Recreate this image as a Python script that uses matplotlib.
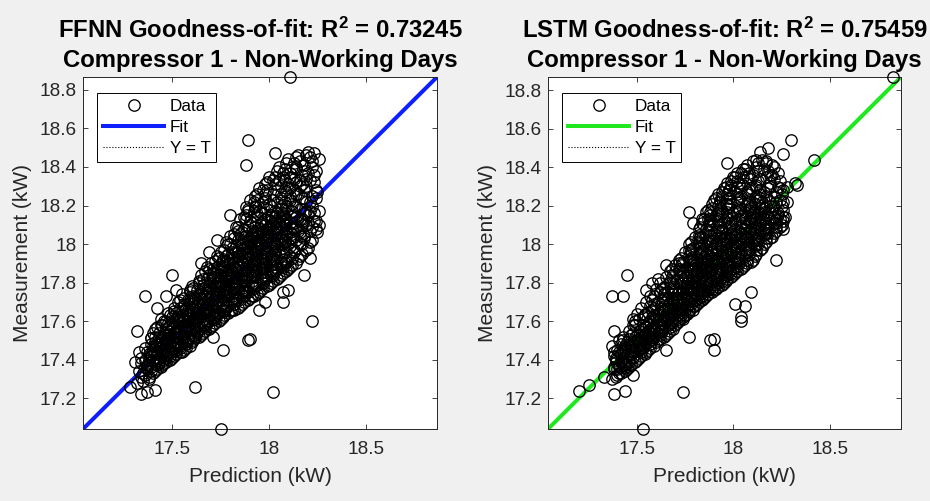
import matplotlib
matplotlib.use("Agg")
import matplotlib.pyplot as plt
from matplotlib.lines import Line2D

plt.rcParams["font.family"] = ["Liberation Sans", "DejaVu Sans"]

# ---- FFNN: prediction vs. measurement (kW) ----
ffnn_pred = [
    17.32, 17.33, 17.31, 17.34, 17.33,
    17.35, 17.36, 17.34, 17.35, 17.36, 17.34,
    17.38, 17.37, 17.38, 17.39, 17.37, 17.38, 17.39,
    17.40, 17.41, 17.39, 17.40, 17.41, 17.40, 17.39, 17.41, 17.40,
    17.42, 17.43, 17.42, 17.44, 17.43, 17.42, 17.43, 17.44, 17.42,
    17.45, 17.46, 17.44, 17.45, 17.46, 17.45, 17.44, 17.46, 17.45, 17.46,
    17.47, 17.48, 17.47, 17.49, 17.48, 17.47, 17.48, 17.49, 17.47, 17.48,
    17.50, 17.51, 17.50, 17.51, 17.49, 17.50, 17.51, 17.50, 17.49, 17.51,
    17.52, 17.53, 17.52, 17.54, 17.53, 17.52, 17.53, 17.54, 17.52, 17.53,
    17.55, 17.56, 17.55, 17.56, 17.54, 17.55, 17.56, 17.55, 17.54, 17.56, 17.55,
    17.57, 17.58, 17.57, 17.59, 17.58, 17.57, 17.58, 17.59, 17.57, 17.58, 17.59,
    17.60, 17.61, 17.60, 17.61, 17.59, 17.60, 17.61, 17.60, 17.59, 17.61, 17.60,
    17.62, 17.63, 17.62, 17.64, 17.63, 17.62, 17.63, 17.64, 17.62, 17.63, 17.64,
    17.65, 17.66, 17.65, 17.66, 17.64, 17.65, 17.66, 17.65, 17.64, 17.66, 17.65,
    17.67, 17.68, 17.67, 17.69, 17.68, 17.67, 17.68, 17.69, 17.67, 17.68, 17.69,
    17.70, 17.71, 17.70, 17.71, 17.69, 17.70, 17.71, 17.70, 17.69, 17.71, 17.70, 17.71,
    17.72, 17.73, 17.72, 17.74, 17.73, 17.72, 17.73, 17.74, 17.72, 17.73, 17.74, 17.72,
    17.75, 17.76, 17.75, 17.76, 17.74, 17.75, 17.76, 17.75, 17.74, 17.76, 17.75, 17.76,
    17.77, 17.78, 17.77, 17.79, 17.78, 17.77, 17.78, 17.79, 17.77, 17.78, 17.79, 17.78,
    17.80, 17.81, 17.80, 17.81, 17.79, 17.80, 17.81, 17.80, 17.79, 17.81, 17.80, 17.81, 17.80,
    17.82, 17.83, 17.82, 17.84, 17.83, 17.82, 17.83, 17.84, 17.82, 17.83, 17.84, 17.83, 17.82,
    17.85, 17.86, 17.85, 17.86, 17.84, 17.85, 17.86, 17.85, 17.84, 17.86, 17.85, 17.86, 17.85, 17.84,
    17.87, 17.88, 17.87, 17.89, 17.88, 17.87, 17.88, 17.89, 17.87, 17.88, 17.89, 17.88, 17.87, 17.88,
    17.90, 17.91, 17.90, 17.91, 17.89, 17.90, 17.91, 17.90, 17.89, 17.91, 17.90, 17.91, 17.90, 17.89,
    17.92, 17.93, 17.92, 17.94, 17.93, 17.92, 17.93, 17.94, 17.92, 17.93, 17.94, 17.93, 17.92, 17.93,
    17.95, 17.96, 17.95, 17.96, 17.94, 17.95, 17.96, 17.95, 17.94, 17.96, 17.95, 17.96, 17.95, 17.94,
    17.97, 17.98, 17.97, 17.99, 17.98, 17.97, 17.98, 17.99, 17.97, 17.98, 17.99, 17.98, 17.97, 17.98,
    18.00, 18.01, 18.00, 18.01, 17.99, 18.00, 18.01, 18.00, 17.99, 18.01, 18.00, 18.01, 18.00, 17.99,
    18.02, 18.03, 18.02, 18.04, 18.03, 18.02, 18.03, 18.04, 18.02, 18.03, 18.04, 18.03, 18.02, 18.03,
    18.05, 18.06, 18.05, 18.06, 18.04, 18.05, 18.06, 18.05, 18.04, 18.06, 18.05, 18.06, 18.05,
    18.07, 18.08, 18.07, 18.09, 18.08, 18.07, 18.08, 18.09, 18.07, 18.08, 18.09, 18.08, 18.07,
    18.10, 18.11, 18.10, 18.11, 18.09, 18.10, 18.11, 18.10, 18.09, 18.11, 18.10, 18.11,
    18.12, 18.13, 18.12, 18.14, 18.13, 18.12, 18.13, 18.14, 18.12, 18.13, 18.14,
    18.15, 18.16, 18.15, 18.16, 18.14, 18.15, 18.16, 18.15, 18.14, 18.16,
    18.17, 18.18, 18.17, 18.19, 18.18, 18.17, 18.18, 18.19, 18.17,
    18.20, 18.21, 18.20, 18.21, 18.19, 18.20, 18.21, 18.20,
    18.22, 18.23, 18.22, 18.24, 18.23, 18.22,
    18.25, 18.26, 18.25, 18.24,
    17.36, 17.37, 17.36, 17.37,
    17.39, 17.38, 17.39, 17.40, 17.39, 17.38,
    17.41, 17.42, 17.41, 17.42, 17.41, 17.42, 17.41,
    17.44, 17.43, 17.44, 17.43, 17.44, 17.43, 17.44, 17.43,
    17.46, 17.47, 17.46, 17.47, 17.46, 17.47, 17.46, 17.47,
    17.49, 17.48, 17.49, 17.48, 17.49, 17.48, 17.49, 17.48,
    17.51, 17.52, 17.51, 17.52, 17.51, 17.52, 17.51, 17.52,
    17.54, 17.53, 17.54, 17.53, 17.54, 17.53, 17.54, 17.53, 17.54,
    17.56, 17.57, 17.56, 17.57, 17.56, 17.57, 17.56, 17.57, 17.56,
    17.59, 17.58, 17.59, 17.58, 17.59, 17.58, 17.59, 17.58, 17.59,
    17.61, 17.62, 17.61, 17.62, 17.61, 17.62, 17.61, 17.62, 17.61,
    17.64, 17.63, 17.64, 17.63, 17.64, 17.63, 17.64, 17.63, 17.64,
    17.66, 17.67, 17.66, 17.67, 17.66, 17.67, 17.66, 17.67, 17.66, 17.67,
    17.69, 17.68, 17.69, 17.68, 17.69, 17.68, 17.69, 17.68, 17.69, 17.68,
    17.71, 17.72, 17.71, 17.72, 17.71, 17.72, 17.71, 17.72, 17.71, 17.72,
    17.74, 17.73, 17.74, 17.73, 17.74, 17.73, 17.74, 17.73, 17.74, 17.73, 17.74,
    17.76, 17.77, 17.76, 17.77, 17.76, 17.77, 17.76, 17.77, 17.76, 17.77, 17.76,
    17.79, 17.78, 17.79, 17.78, 17.79, 17.78, 17.79, 17.78, 17.79, 17.78, 17.79, 17.78,
    17.81, 17.82, 17.81, 17.82, 17.81, 17.82, 17.81, 17.82, 17.81, 17.82, 17.81, 17.82,
    17.84, 17.83, 17.84, 17.83, 17.84, 17.83, 17.84, 17.83, 17.84, 17.83, 17.84, 17.83, 17.84,
    17.86, 17.87, 17.86, 17.87, 17.86, 17.87, 17.86, 17.87, 17.86, 17.87, 17.86, 17.87, 17.86,
    17.89, 17.88, 17.89, 17.88, 17.89, 17.88, 17.89, 17.88, 17.89, 17.88, 17.89, 17.88, 17.89, 17.88,
    17.91, 17.92, 17.91, 17.92, 17.91, 17.92, 17.91, 17.92, 17.91, 17.92, 17.91, 17.92, 17.91, 17.92,
    17.94, 17.93, 17.94, 17.93, 17.94, 17.93, 17.94, 17.93, 17.94, 17.93, 17.94, 17.93, 17.94, 17.93,
    17.96, 17.97, 17.96, 17.97, 17.96, 17.97, 17.96, 17.97, 17.96, 17.97, 17.96, 17.97, 17.96, 17.97,
    17.99, 17.98, 17.99, 17.98, 17.99, 17.98, 17.99, 17.98, 17.99, 17.98, 17.99, 17.98, 17.99, 17.98,
    18.01, 18.02, 18.01, 18.02, 18.01, 18.02, 18.01, 18.02, 18.01, 18.02, 18.01, 18.02, 18.01, 18.02,
    18.04, 18.03, 18.04, 18.03, 18.04, 18.03, 18.04, 18.03, 18.04, 18.03, 18.04, 18.03, 18.04,
    18.06, 18.07, 18.06, 18.07, 18.06, 18.07, 18.06, 18.07, 18.06, 18.07, 18.06, 18.07, 18.06,
    18.09, 18.08, 18.09, 18.08, 18.09, 18.08, 18.09, 18.08, 18.09, 18.08, 18.09, 18.08,
    18.11, 18.12, 18.11, 18.12, 18.11, 18.12, 18.11, 18.12, 18.11, 18.12, 18.11,
    18.14, 18.13, 18.14, 18.13, 18.14, 18.13, 18.14, 18.13, 18.14, 18.13,
    18.16, 18.17, 18.16, 18.17, 18.16, 18.17, 18.16, 18.17, 18.16,
    18.19, 18.18, 18.19, 18.18, 18.19, 18.18, 18.19, 18.18,
    18.21, 18.22, 18.21, 18.22, 18.21, 18.22,
    18.24, 18.23, 18.24, 18.23,
    18.11, 17.89, 17.88, 18.03, 18.26, 17.80, 17.73, 17.65, 17.69, 18.21,
    18.24, 17.50, 17.36, 17.32, 17.47, 17.42, 17.52, 17.62, 18.02, 17.75,
    18.22, 17.89, 17.90, 17.76, 17.71, 18.07, 18.10, 18.18, 17.28, 17.34,
    17.41, 17.37, 18.26, 18.23, 18.20, 17.98, 17.95, 18.07,
]
ffnn_meas = [
    17.28, 17.34, 17.39, 17.31, 17.44,
    17.29, 17.36, 17.41, 17.33, 17.46, 17.38,
    17.31, 17.37, 17.43, 17.48, 17.35, 17.40, 17.51,
    17.33, 17.38, 17.42, 17.45, 17.49, 17.54, 17.36, 17.47, 17.40,
    17.35, 17.41, 17.44, 17.47, 17.52, 17.57, 17.38, 17.50, 17.43,
    17.37, 17.42, 17.46, 17.49, 17.53, 17.58, 17.61, 17.40, 17.51, 17.45,
    17.39, 17.44, 17.48, 17.52, 17.55, 17.60, 17.64, 17.42, 17.50, 17.57,
    17.41, 17.46, 17.50, 17.54, 17.58, 17.62, 17.67, 17.44, 17.52, 17.60,
    17.43, 17.48, 17.52, 17.56, 17.60, 17.64, 17.70, 17.46, 17.54, 17.62,
    17.44, 17.49, 17.53, 17.57, 17.61, 17.65, 17.69, 17.74, 17.47, 17.55, 17.63,
    17.46, 17.51, 17.55, 17.59, 17.63, 17.67, 17.71, 17.76, 17.49, 17.57, 17.65,
    17.49, 17.53, 17.57, 17.61, 17.65, 17.69, 17.73, 17.78, 17.51, 17.59, 17.67,
    17.51, 17.55, 17.60, 17.64, 17.68, 17.72, 17.76, 17.81, 17.53, 17.62, 17.70,
    17.53, 17.58, 17.62, 17.66, 17.70, 17.74, 17.79, 17.84, 17.56, 17.64, 17.72,
    17.55, 17.60, 17.64, 17.69, 17.73, 17.77, 17.82, 17.87, 17.58, 17.66, 17.75,
    17.57, 17.62, 17.66, 17.71, 17.75, 17.80, 17.85, 17.90, 17.60, 17.68, 17.77, 17.83,
    17.59, 17.64, 17.69, 17.73, 17.78, 17.83, 17.88, 17.93, 17.62, 17.71, 17.80, 17.86,
    17.61, 17.66, 17.71, 17.76, 17.81, 17.86, 17.91, 17.96, 17.64, 17.73, 17.83, 17.88,
    17.63, 17.68, 17.73, 17.78, 17.83, 17.88, 17.94, 18.00, 17.66, 17.75, 17.85, 17.91,
    17.65, 17.70, 17.75, 17.80, 17.85, 17.90, 17.96, 18.04, 17.68, 17.77, 17.87, 17.93, 18.00,
    17.66, 17.72, 17.77, 17.82, 17.87, 17.93, 17.99, 18.07, 17.69, 17.79, 17.90, 17.96, 18.03,
    17.68, 17.74, 17.79, 17.84, 17.89, 17.95, 18.01, 18.13, 17.71, 17.81, 17.92, 17.98, 18.05, 18.09,
    17.70, 17.76, 17.81, 17.86, 17.92, 17.98, 18.04, 18.18, 17.73, 17.83, 17.95, 18.01, 18.08, 18.13,
    17.72, 17.78, 17.83, 17.89, 17.95, 18.01, 18.07, 18.23, 17.75, 17.86, 17.98, 18.04, 18.12, 18.17,
    17.73, 17.80, 17.85, 17.91, 17.97, 18.03, 18.09, 18.26, 17.77, 17.88, 18.00, 18.06, 18.15, 18.20,
    17.75, 17.82, 17.87, 17.93, 17.99, 18.05, 18.11, 18.29, 17.79, 17.90, 18.02, 18.08, 18.17, 18.23,
    17.77, 17.84, 17.89, 17.95, 18.01, 18.07, 18.13, 18.32, 17.81, 17.92, 18.04, 18.10, 18.19, 18.26,
    17.79, 17.86, 17.91, 17.97, 18.03, 18.09, 18.15, 18.35, 17.83, 17.94, 18.06, 18.12, 18.21, 18.28,
    17.81, 17.88, 17.93, 17.99, 18.05, 18.11, 18.17, 18.38, 17.85, 17.96, 18.08, 18.14, 18.23, 18.31,
    17.83, 17.90, 17.96, 18.02, 18.08, 18.14, 18.20, 18.40, 17.87, 18.00, 18.11, 18.26, 18.33,
    17.85, 17.92, 17.98, 18.04, 18.10, 18.16, 18.22, 18.42, 17.89, 18.01, 18.13, 18.28, 18.35,
    17.87, 17.94, 18.00, 18.06, 18.12, 18.18, 18.25, 18.44, 17.91, 18.03, 18.31, 18.37,
    17.89, 17.97, 18.03, 18.09, 18.15, 18.21, 18.28, 18.45, 17.93, 18.34, 18.40,
    17.92, 18.00, 18.07, 18.13, 18.19, 18.26, 18.33, 18.46, 18.39, 18.04,
    17.95, 18.03, 18.10, 18.17, 18.24, 18.31, 18.38, 18.46, 18.13,
    17.98, 18.07, 18.15, 18.22, 18.30, 18.37, 18.45, 18.11,
    18.02, 18.12, 18.20, 18.28, 18.36, 18.43,
    18.06, 18.17, 18.27, 18.38,
    17.32, 17.36, 17.40, 17.44,
    17.34, 17.39, 17.43, 17.47, 17.51, 17.30,
    17.34, 17.40, 17.44, 17.48, 17.52, 17.37, 17.56,
    17.36, 17.39, 17.43, 17.46, 17.50, 17.54, 17.58, 17.48,
    17.38, 17.41, 17.45, 17.48, 17.52, 17.56, 17.60, 17.50,
    17.40, 17.43, 17.47, 17.51, 17.55, 17.59, 17.63, 17.53,
    17.42, 17.45, 17.49, 17.53, 17.57, 17.61, 17.65, 17.55,
    17.44, 17.47, 17.51, 17.55, 17.59, 17.63, 17.67, 17.57, 17.71,
    17.45, 17.48, 17.52, 17.56, 17.60, 17.64, 17.68, 17.58, 17.72,
    17.47, 17.50, 17.54, 17.58, 17.62, 17.66, 17.70, 17.60, 17.75,
    17.50, 17.52, 17.56, 17.60, 17.64, 17.68, 17.72, 17.62, 17.77,
    17.52, 17.54, 17.58, 17.62, 17.66, 17.70, 17.74, 17.64, 17.80,
    17.54, 17.57, 17.61, 17.65, 17.69, 17.73, 17.77, 17.67, 17.82, 17.86,
    17.56, 17.59, 17.63, 17.67, 17.71, 17.75, 17.79, 17.69, 17.84, 17.88,
    17.58, 17.61, 17.65, 17.69, 17.73, 17.78, 17.82, 17.72, 17.87, 17.91,
    17.60, 17.63, 17.67, 17.71, 17.75, 17.80, 17.84, 17.74, 17.89, 17.94, 17.78,
    17.62, 17.65, 17.69, 17.74, 17.78, 17.83, 17.87, 17.77, 17.92, 17.97, 17.81,
    17.64, 17.67, 17.71, 17.76, 17.81, 17.86, 17.90, 17.79, 17.95, 18.01, 17.84, 17.73,
    17.66, 17.69, 17.73, 17.78, 17.83, 17.88, 17.93, 17.81, 17.98, 18.05, 17.86, 17.75,
    17.67, 17.71, 17.75, 17.80, 17.85, 17.91, 17.96, 17.83, 18.02, 18.09, 17.88, 17.77, 17.94,
    17.69, 17.73, 17.77, 17.82, 17.88, 17.94, 18.00, 17.85, 18.06, 18.14, 17.91, 17.79, 17.97,
    17.71, 17.75, 17.79, 17.84, 17.90, 17.96, 18.02, 17.87, 18.09, 18.19, 17.93, 17.81, 17.99, 18.15,
    17.73, 17.77, 17.81, 17.87, 17.93, 17.99, 18.05, 17.90, 18.11, 18.22, 17.96, 17.84, 18.02, 18.17,
    17.74, 17.78, 17.83, 17.89, 17.95, 18.01, 18.07, 17.92, 18.14, 18.25, 17.98, 17.86, 18.04, 18.19,
    17.76, 17.80, 17.85, 17.91, 17.97, 18.03, 18.10, 17.94, 18.16, 18.28, 18.00, 17.88, 18.06, 18.22,
    17.78, 17.82, 17.87, 17.93, 17.99, 18.05, 18.12, 17.96, 18.18, 18.31, 18.02, 17.90, 18.08, 18.24,
    17.80, 17.84, 17.89, 17.95, 18.01, 18.07, 18.14, 17.98, 18.20, 18.33, 18.04, 17.92, 18.10, 18.26,
    17.82, 17.86, 17.91, 17.97, 18.03, 18.09, 18.16, 18.00, 18.22, 18.35, 18.06, 18.12, 18.28,
    17.84, 17.88, 17.94, 18.00, 18.06, 18.12, 18.18, 18.03, 18.24, 18.37, 18.09, 18.15, 18.30,
    17.86, 17.90, 17.96, 18.02, 18.08, 18.14, 18.20, 18.05, 18.27, 18.39, 18.11, 18.33,
    17.88, 17.93, 17.99, 18.05, 18.11, 18.17, 18.23, 18.08, 18.29, 18.40, 18.35,
    17.90, 17.96, 18.02, 18.08, 18.14, 18.20, 18.26, 18.11, 18.32, 18.42,
    17.94, 18.00, 18.06, 18.12, 18.18, 18.24, 18.30, 18.36, 18.43,
    17.97, 18.04, 18.10, 18.16, 18.22, 18.28, 18.34, 18.41,
    18.01, 18.09, 18.17, 18.25, 18.33, 18.40,
    18.08, 18.16, 18.24, 18.32,
    18.867, 18.54, 18.41, 18.47, 18.44, 18.15, 18.02, 17.90, 17.96, 17.93,
    18.12, 17.84, 17.73, 17.55, 17.73, 17.67, 17.76, 17.26, 17.23, 17.04,
    17.60, 17.50, 17.505, 17.45, 17.52, 17.75, 17.76, 17.84, 17.26, 17.22,
    17.24, 17.23, 18.10, 18.47, 18.48, 17.70, 17.66, 17.70,
]

# ---- LSTM: prediction vs. measurement (kW) ----
lstm_pred = [
    17.37, 17.38, 17.38, 17.37, 17.39,
    17.40, 17.41, 17.39, 17.40, 17.41, 17.40, 17.42,
    17.42, 17.43, 17.42, 17.44, 17.43, 17.42, 17.43, 17.44,
    17.45, 17.46, 17.44, 17.45, 17.46, 17.45, 17.44, 17.46,
    17.47, 17.48, 17.47, 17.49, 17.48, 17.47, 17.48,
    17.50, 17.51, 17.50, 17.51, 17.49, 17.50, 17.51, 17.50,
    17.52, 17.53, 17.52, 17.54, 17.53, 17.52, 17.53,
    17.55, 17.56, 17.55, 17.56, 17.54, 17.55, 17.56, 17.55,
    17.57, 17.58, 17.57, 17.59, 17.58, 17.57, 17.58, 17.59,
    17.60, 17.61, 17.60, 17.61, 17.59, 17.60, 17.61, 17.60, 17.59,
    17.62, 17.63, 17.62, 17.64, 17.63, 17.62, 17.63, 17.64, 17.62,
    17.65, 17.66, 17.65, 17.66, 17.64, 17.65, 17.66, 17.65, 17.64,
    17.67, 17.68, 17.67, 17.69, 17.68, 17.67, 17.68, 17.69, 17.67, 17.68,
    17.70, 17.71, 17.70, 17.71, 17.69, 17.70, 17.71, 17.70, 17.69, 17.71,
    17.72, 17.73, 17.72, 17.74, 17.73, 17.72, 17.73, 17.74, 17.72, 17.73, 17.74,
    17.75, 17.76, 17.75, 17.76, 17.74, 17.75, 17.76, 17.75, 17.74, 17.76, 17.75,
    17.77, 17.78, 17.77, 17.79, 17.78, 17.77, 17.78, 17.79, 17.77, 17.78, 17.79, 17.78,
    17.80, 17.81, 17.80, 17.81, 17.79, 17.80, 17.81, 17.80, 17.79, 17.81, 17.80, 17.81,
    17.82, 17.83, 17.82, 17.84, 17.83, 17.82, 17.83, 17.84, 17.82, 17.83, 17.84, 17.83, 17.82,
    17.85, 17.86, 17.85, 17.86, 17.84, 17.85, 17.86, 17.85, 17.84, 17.86, 17.85, 17.86, 17.85, 17.84,
    17.87, 17.88, 17.87, 17.89, 17.88, 17.87, 17.88, 17.89, 17.87, 17.88, 17.89, 17.88, 17.87, 17.88,
    17.90, 17.91, 17.90, 17.91, 17.89, 17.90, 17.91, 17.90, 17.89, 17.91, 17.90, 17.91, 17.90, 17.89,
    17.92, 17.93, 17.92, 17.94, 17.93, 17.92, 17.93, 17.94, 17.92, 17.93, 17.94, 17.93, 17.92, 17.93,
    17.95, 17.96, 17.95, 17.96, 17.94, 17.95, 17.96, 17.95, 17.94, 17.96, 17.95, 17.96, 17.95, 17.94,
    17.97, 17.98, 17.97, 17.99, 17.98, 17.97, 17.98, 17.99, 17.97, 17.98, 17.99, 17.98, 17.97, 17.98,
    18.00, 18.01, 18.00, 18.01, 17.99, 18.00, 18.01, 18.00, 17.99, 18.01, 18.00, 18.01, 18.00, 17.99,
    18.02, 18.03, 18.02, 18.04, 18.03, 18.02, 18.03, 18.04, 18.02, 18.03, 18.04, 18.03, 18.02,
    18.05, 18.06, 18.05, 18.06, 18.04, 18.05, 18.06, 18.05, 18.04, 18.06, 18.05, 18.06, 18.05,
    18.07, 18.08, 18.07, 18.09, 18.08, 18.07, 18.08, 18.09, 18.07, 18.08, 18.09, 18.08,
    18.10, 18.11, 18.10, 18.11, 18.09, 18.10, 18.11, 18.10, 18.09, 18.11, 18.10, 18.11,
    18.12, 18.13, 18.12, 18.14, 18.13, 18.12, 18.13, 18.14, 18.12, 18.13, 18.14,
    18.15, 18.16, 18.15, 18.16, 18.14, 18.15, 18.16, 18.15, 18.14, 18.16,
    18.17, 18.18, 18.17, 18.19, 18.18, 18.17, 18.18, 18.19, 18.17,
    18.20, 18.21, 18.20, 18.21, 18.19, 18.20, 18.21, 18.20,
    18.22, 18.23, 18.22, 18.24, 18.23, 18.22,
    18.25, 18.26, 18.25, 18.24, 18.26,
    18.27, 18.28, 18.28,
    17.39, 17.38, 17.39, 17.38,
    17.41, 17.42, 17.41, 17.42, 17.41,
    17.44, 17.43, 17.44, 17.43, 17.44, 17.43,
    17.46, 17.47, 17.46, 17.47, 17.46, 17.47,
    17.49, 17.48, 17.49, 17.48, 17.49, 17.48, 17.49,
    17.51, 17.52, 17.51, 17.52, 17.51, 17.52, 17.51,
    17.54, 17.53, 17.54, 17.53, 17.54, 17.53, 17.54,
    17.56, 17.57, 17.56, 17.57, 17.56, 17.57, 17.56, 17.57,
    17.59, 17.58, 17.59, 17.58, 17.59, 17.58, 17.59, 17.58,
    17.61, 17.62, 17.61, 17.62, 17.61, 17.62, 17.61, 17.62,
    17.64, 17.63, 17.64, 17.63, 17.64, 17.63, 17.64, 17.63, 17.64,
    17.66, 17.67, 17.66, 17.67, 17.66, 17.67, 17.66, 17.67, 17.66,
    17.69, 17.68, 17.69, 17.68, 17.69, 17.68, 17.69, 17.68, 17.69, 17.68,
    17.71, 17.72, 17.71, 17.72, 17.71, 17.72, 17.71, 17.72, 17.71, 17.72,
    17.74, 17.73, 17.74, 17.73, 17.74, 17.73, 17.74, 17.73, 17.74, 17.73, 17.74,
    17.76, 17.77, 17.76, 17.77, 17.76, 17.77, 17.76, 17.77, 17.76, 17.77, 17.76,
    17.79, 17.78, 17.79, 17.78, 17.79, 17.78, 17.79, 17.78, 17.79, 17.78, 17.79, 17.78,
    17.81, 17.82, 17.81, 17.82, 17.81, 17.82, 17.81, 17.82, 17.81, 17.82, 17.81, 17.82,
    17.84, 17.83, 17.84, 17.83, 17.84, 17.83, 17.84, 17.83, 17.84, 17.83, 17.84, 17.83, 17.84,
    17.86, 17.87, 17.86, 17.87, 17.86, 17.87, 17.86, 17.87, 17.86, 17.87, 17.86, 17.87, 17.86, 17.87,
    17.89, 17.88, 17.89, 17.88, 17.89, 17.88, 17.89, 17.88, 17.89, 17.88, 17.89, 17.88, 17.89, 17.88,
    17.91, 17.92, 17.91, 17.92, 17.91, 17.92, 17.91, 17.92, 17.91, 17.92, 17.91, 17.92, 17.91, 17.92,
    17.94, 17.93, 17.94, 17.93, 17.94, 17.93, 17.94, 17.93, 17.94, 17.93, 17.94, 17.93, 17.94, 17.93,
    17.96, 17.97, 17.96, 17.97, 17.96, 17.97, 17.96, 17.97, 17.96, 17.97, 17.96, 17.97, 17.96, 17.97,
    17.99, 17.98, 17.99, 17.98, 17.99, 17.98, 17.99, 17.98, 17.99, 17.98, 17.99, 17.98, 17.99, 17.98,
    18.01, 18.02, 18.01, 18.02, 18.01, 18.02, 18.01, 18.02, 18.01, 18.02, 18.01, 18.02, 18.01, 18.02,
    18.04, 18.03, 18.04, 18.03, 18.04, 18.03, 18.04, 18.03, 18.04, 18.03, 18.04, 18.03, 18.04,
    18.06, 18.07, 18.06, 18.07, 18.06, 18.07, 18.06, 18.07, 18.06, 18.07, 18.06, 18.07, 18.06,
    18.09, 18.08, 18.09, 18.08, 18.09, 18.08, 18.09, 18.08, 18.09, 18.08, 18.09, 18.08,
    18.11, 18.12, 18.11, 18.12, 18.11, 18.12, 18.11, 18.12, 18.11, 18.12, 18.11, 18.12,
    18.14, 18.13, 18.14, 18.13, 18.14, 18.13, 18.14, 18.13, 18.14, 18.13, 18.14,
    18.16, 18.17, 18.16, 18.17, 18.16, 18.17, 18.16, 18.17, 18.16, 18.17,
    18.19, 18.18, 18.19, 18.18, 18.19, 18.18, 18.19, 18.18, 18.19,
    18.21, 18.22, 18.21, 18.22, 18.21, 18.22, 18.21,
    18.24, 18.23, 18.24, 18.23, 18.24,
    18.26, 18.25, 18.26,
    18.83, 18.42, 18.30, 18.33, 18.32, 17.97, 18.14, 18.26, 18.18, 17.77,
    17.79, 17.65, 18.26, 18.26, 18.22, 17.45, 17.37, 17.43, 17.38, 17.20,
    17.25, 17.38, 17.44, 17.74, 17.53, 17.90, 17.88, 17.90, 17.77, 17.65,
    18.04, 18.04, 18.09, 17.48, 17.33, 17.58, 17.61, 17.55, 18.01, 18.06,
]
lstm_meas = [
    17.30, 17.36, 17.42, 17.47, 17.39,
    17.32, 17.37, 17.41, 17.45, 17.50, 17.35, 17.43,
    17.33, 17.38, 17.43, 17.47, 17.52, 17.40, 17.45, 17.36,
    17.35, 17.40, 17.45, 17.49, 17.55, 17.43, 17.38, 17.51,
    17.37, 17.42, 17.47, 17.52, 17.58, 17.45, 17.61,
    17.40, 17.45, 17.50, 17.55, 17.60, 17.64, 17.48, 17.53,
    17.42, 17.47, 17.52, 17.57, 17.62, 17.67, 17.50,
    17.44, 17.49, 17.54, 17.59, 17.64, 17.70, 17.52, 17.57,
    17.46, 17.51, 17.56, 17.61, 17.66, 17.73, 17.54, 17.63,
    17.49, 17.54, 17.59, 17.64, 17.69, 17.77, 17.57, 17.62, 17.73,
    17.51, 17.56, 17.61, 17.66, 17.71, 17.80, 17.59, 17.68, 17.75,
    17.53, 17.58, 17.63, 17.68, 17.74, 17.83, 17.61, 17.71, 17.78,
    17.55, 17.60, 17.66, 17.71, 17.77, 17.86, 17.63, 17.74, 17.81, 17.69,
    17.58, 17.63, 17.68, 17.74, 17.80, 17.89, 17.66, 17.77, 17.84, 17.71,
    17.60, 17.65, 17.71, 17.77, 17.83, 17.92, 17.68, 17.80, 17.87, 17.74, 17.62,
    17.63, 17.68, 17.74, 17.80, 17.86, 17.96, 17.71, 17.83, 17.91, 17.77, 17.66,
    17.65, 17.71, 17.77, 17.83, 17.89, 18.00, 17.74, 17.86, 17.94, 17.80, 17.68, 17.97,
    17.68, 17.74, 17.80, 17.86, 17.92, 18.04, 17.77, 17.89, 17.98, 17.83, 17.71, 18.01,
    17.70, 17.76, 17.82, 17.88, 17.95, 18.08, 17.79, 17.91, 18.01, 17.85, 17.73, 18.04, 17.98,
    17.72, 17.78, 17.84, 17.90, 17.97, 18.13, 17.81, 17.93, 18.04, 17.87, 17.75, 18.08, 18.00, 18.11,
    17.74, 17.80, 17.86, 17.93, 18.00, 18.18, 17.83, 17.96, 18.07, 17.89, 17.77, 18.12, 18.03, 18.15,
    17.76, 17.82, 17.89, 17.95, 18.02, 18.23, 17.85, 17.98, 18.10, 17.92, 17.79, 18.15, 18.06, 18.19,
    17.78, 17.84, 17.91, 17.97, 18.04, 18.26, 17.87, 18.00, 18.13, 17.94, 17.81, 18.18, 18.09, 18.22,
    17.80, 17.86, 17.93, 18.00, 18.07, 18.29, 17.89, 18.03, 18.16, 17.96, 17.83, 18.21, 18.12, 18.25,
    17.82, 17.88, 17.95, 18.02, 18.09, 18.32, 17.91, 18.05, 18.19, 17.98, 17.85, 18.24, 18.14, 18.28,
    17.84, 17.90, 17.97, 18.04, 18.11, 18.35, 17.93, 18.07, 18.21, 18.00, 17.87, 18.27, 18.16, 18.31,
    17.86, 17.92, 17.99, 18.06, 18.13, 18.37, 17.95, 18.09, 18.23, 18.02, 18.29, 18.18, 18.33,
    17.88, 17.94, 18.01, 18.08, 18.15, 18.39, 17.97, 18.11, 18.25, 18.04, 18.31, 18.20, 18.35,
    17.90, 17.97, 18.04, 18.11, 18.18, 18.41, 18.00, 18.14, 18.27, 18.07, 18.34, 18.22,
    17.92, 17.99, 18.06, 18.13, 18.20, 18.43, 18.02, 18.16, 18.29, 18.09, 18.36, 18.24,
    17.95, 18.02, 18.09, 18.16, 18.23, 18.44, 18.05, 18.19, 18.31, 18.38, 18.12,
    17.98, 18.05, 18.12, 18.19, 18.26, 18.44, 18.08, 18.22, 18.34, 18.39,
    18.01, 18.08, 18.15, 18.22, 18.29, 18.43, 18.11, 18.36, 18.25,
    18.04, 18.11, 18.18, 18.25, 18.32, 18.41, 18.14, 18.36,
    18.07, 18.15, 18.22, 18.29, 18.37, 18.11,
    18.10, 18.18, 18.26, 18.33, 18.22,
    18.14, 18.22, 18.30,
    17.31, 17.35, 17.40, 17.44,
    17.33, 17.39, 17.44, 17.48, 17.36,
    17.34, 17.41, 17.46, 17.50, 17.37, 17.44,
    17.36, 17.43, 17.48, 17.53, 17.39, 17.46,
    17.39, 17.44, 17.49, 17.54, 17.58, 17.41, 17.47,
    17.41, 17.46, 17.51, 17.56, 17.61, 17.44, 17.49,
    17.43, 17.48, 17.53, 17.58, 17.63, 17.46, 17.51,
    17.45, 17.50, 17.55, 17.60, 17.65, 17.48, 17.53, 17.68,
    17.47, 17.52, 17.57, 17.62, 17.67, 17.50, 17.55, 17.71,
    17.50, 17.55, 17.60, 17.65, 17.70, 17.53, 17.58, 17.75,
    17.52, 17.57, 17.62, 17.67, 17.72, 17.55, 17.60, 17.77, 17.65,
    17.54, 17.59, 17.64, 17.70, 17.75, 17.57, 17.62, 17.80, 17.67,
    17.56, 17.61, 17.67, 17.72, 17.78, 17.59, 17.64, 17.83, 17.70, 17.87,
    17.59, 17.64, 17.69, 17.75, 17.81, 17.61, 17.67, 17.86, 17.72, 17.90,
    17.61, 17.66, 17.72, 17.78, 17.84, 17.63, 17.69, 17.89, 17.75, 17.93, 17.81,
    17.64, 17.69, 17.75, 17.81, 17.87, 17.66, 17.72, 17.92, 17.78, 17.97, 17.84,
    17.66, 17.72, 17.78, 17.84, 17.90, 17.69, 17.75, 17.96, 17.81, 18.01, 17.87, 17.93,
    17.69, 17.75, 17.81, 17.87, 17.93, 17.72, 17.78, 18.00, 17.84, 18.05, 17.90, 17.96,
    17.71, 17.77, 17.83, 17.89, 17.96, 17.74, 17.80, 18.04, 17.86, 18.09, 17.92, 17.99, 18.13,
    17.73, 17.79, 17.85, 17.92, 17.99, 17.76, 17.82, 18.07, 17.88, 18.13, 17.95, 18.02, 18.17, 18.10,
    17.75, 17.81, 17.87, 17.94, 18.01, 17.78, 17.84, 18.10, 17.91, 18.17, 17.97, 18.05, 18.21, 18.13,
    17.77, 17.83, 17.90, 17.96, 18.03, 17.80, 17.86, 18.12, 17.93, 18.20, 18.00, 18.07, 18.24, 18.16,
    17.79, 17.85, 17.92, 17.99, 18.06, 17.82, 17.88, 18.15, 17.95, 18.23, 18.02, 18.10, 18.27, 18.19,
    17.81, 17.87, 17.94, 18.01, 18.08, 17.84, 17.90, 18.17, 17.97, 18.26, 18.04, 18.13, 18.30, 18.21,
    17.83, 17.89, 17.96, 18.03, 18.10, 17.86, 17.92, 18.20, 17.99, 18.28, 18.06, 18.15, 18.33, 18.24,
    17.85, 17.91, 17.98, 18.05, 18.12, 17.88, 17.94, 18.22, 18.01, 18.30, 18.08, 18.17, 18.35, 18.26,
    17.87, 17.93, 18.00, 18.07, 18.14, 17.90, 17.96, 18.24, 18.03, 18.32, 18.10, 18.19, 18.37,
    17.89, 17.96, 18.03, 18.10, 18.17, 17.92, 17.99, 18.26, 18.06, 18.35, 18.13, 18.21, 18.39,
    17.91, 17.98, 18.05, 18.12, 18.19, 17.95, 18.01, 18.28, 18.08, 18.37, 18.15, 18.23,
    17.94, 18.00, 18.07, 18.14, 18.21, 17.97, 18.04, 18.30, 18.11, 18.40, 18.17, 18.25,
    17.97, 18.03, 18.10, 18.17, 18.24, 18.00, 18.07, 18.33, 18.14, 18.42, 18.28,
    18.00, 18.06, 18.13, 18.20, 18.27, 18.03, 18.10, 18.35, 18.17, 18.42,
    18.03, 18.09, 18.16, 18.23, 18.30, 18.06, 18.13, 18.38, 18.20,
    18.06, 18.13, 18.20, 18.27, 18.34, 18.09, 18.40,
    18.09, 18.16, 18.23, 18.30, 18.13,
    18.12, 18.20, 18.28,
    18.869, 18.44, 18.54, 18.31, 18.32, 18.42, 18.48, 18.47, 18.50, 18.17,
    18.11, 17.89, 18.14, 18.08, 17.92, 17.84, 17.73, 17.73, 17.55, 17.24,
    17.27, 17.22, 17.24, 17.23, 17.04, 17.45, 17.50, 17.51, 17.52, 17.45,
    17.60, 17.62, 17.75, 17.32, 17.31, 17.80, 17.82, 17.76, 17.69, 17.68,
]

model_names = ["FFNN", "LSTM"]
r_squared = ["0.73245", "0.75459"]
fit_slope = [1.0, 1.0]
fit_intercept = [0.0, 0.0]
fit_colors = ["#0d1eff", "#1fe81f"]
subtitle = "Compressor 1 - Non-Working Days"

x_ticks = [17.5, 18.0, 18.5]
x_tick_labels = ["17.5", "18", "18.5"]
y_ticks = [17.2, 17.4, 17.6, 17.8, 18.0, 18.2, 18.4, 18.6, 18.8]
y_tick_labels = ["17.2", "17.4", "17.6", "17.8", "18", "18.2", "18.4", "18.6", "18.8"]

W, H = 930, 501
fig = plt.figure(figsize=(W / 100, H / 100), dpi=100, facecolor="#f0f0f0")
axes_px = [(83, 77, 354, 352), (548, 77, 353, 352)]  # left, top, width, height in pixels

text_col = "#262626"
marker_kw = dict(marker="o", ms=8.2, mfc="none", mec="k", mew=0.95)
datasets = [(ffnn_pred, ffnn_meas), (lstm_pred, lstm_meas)]

for i, (pred, meas) in enumerate(datasets):
    l, t, w, h = axes_px[i]
    ax = fig.add_axes([l / W, (H - t - h) / H, w / W, h / H])
    ax.set_facecolor("white")

    lo = min(min(pred), min(meas))
    hi = max(max(pred), max(meas))
    ends = [lo, hi]

    ax.plot(ends, ends, color="k", ls=":", lw=0.8, zorder=1.5)
    ax.plot(ends, [fit_slope[i] * v + fit_intercept[i] for v in ends],
            color=fit_colors[i], lw=2.9, zorder=2, solid_capstyle="butt")
    ax.plot(pred, meas, ls="none", zorder=3, clip_on=False, **marker_kw)

    ax.set_xlim(lo, hi)
    ax.set_ylim(lo, hi)
    ax.set_xticks(x_ticks)
    ax.set_xticklabels(x_tick_labels)
    ax.set_yticks(y_ticks)
    ax.set_yticklabels(y_tick_labels)
    ax.tick_params(direction="in", top=True, right=True, length=3.6, width=0.6,
                   color=text_col, labelcolor=text_col, labelsize=13.7)
    ax.tick_params(axis="x", pad=9)
    ax.tick_params(axis="y", pad=4.8)
    for sp in ax.spines.values():
        sp.set_color(text_col)
        sp.set_linewidth(0.7)

    ax.set_xlabel("Prediction (kW)", fontsize=15, color=text_col, labelpad=6)
    ax.set_ylabel("Measurement (kW)", fontsize=15, color=text_col, labelpad=5)
    ax.set_title(f"{model_names[i]} Goodness-of-fit: $\\mathregular{{R^2}}$ = {r_squared[i]}\n{subtitle}",
                 fontsize=17.2, fontweight="bold", linespacing=1.34, pad=7)

    handles = [
        Line2D([], [], ls="none", **marker_kw),
        Line2D([], [], color=fit_colors[i], lw=2.9),
        Line2D([], [], color="k", ls=":", lw=0.8),
    ]
    leg = ax.legend(handles, ["Data", "Fit", "Y = T"], loc="upper left",
                    bbox_to_anchor=(14 / w, 1 - 16 / h), borderaxespad=0,
                    fancybox=False, edgecolor="k", framealpha=1, fontsize=12.3,
                    handlelength=3.6, handletextpad=0.3, borderpad=0.35,
                    labelspacing=0.35, numpoints=1)
    leg.get_frame().set_linewidth(0.7)

fig.savefig("out.png", dpi=100, facecolor=fig.get_facecolor())
